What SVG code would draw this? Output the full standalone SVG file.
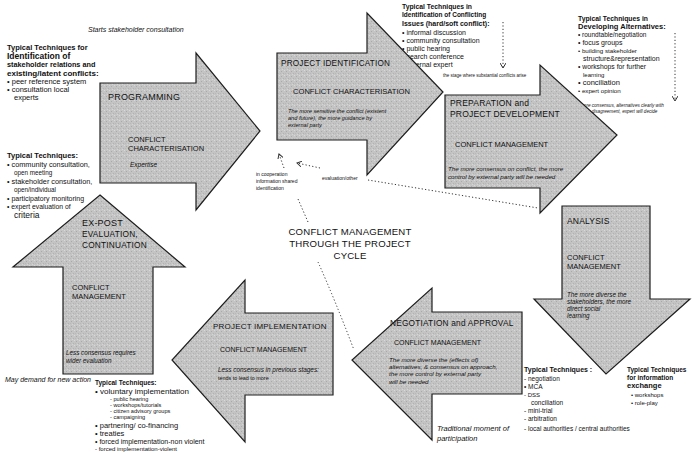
<svg xmlns="http://www.w3.org/2000/svg" width="700" height="453" viewBox="0 0 700 453">
<defs>
<pattern id="stip" width="5" height="5" patternUnits="userSpaceOnUse">
<rect width="5" height="5" fill="#c4c4c4"/>
<rect x="1" y="1" width="1" height="1" fill="#a9a9a9"/>
<rect x="3" y="3" width="1" height="1" fill="#b2b2b2"/>
<rect x="2" y="4" width="1" height="1" fill="#d6d6d6"/>
<rect x="4" y="0" width="1" height="1" fill="#d9d9d9"/>
<rect x="0" y="3" width="1" height="1" fill="#b8b8b8"/>
</pattern>
<marker id="ah" markerWidth="6" markerHeight="6" refX="5" refY="3" orient="auto" markerUnits="userSpaceOnUse">
<path d="M0,0 L5,3 L0,6" fill="none" stroke="#333" stroke-width="1"/>
</marker>
</defs>
<style>
.arrow{fill:url(#stip);stroke:#1e1e1e;stroke-width:1.2;stroke-linejoin:miter}
text{font-family:"Liberation Sans",Arial,sans-serif;fill:#111}
.b{font-weight:bold}
.i{font-style:italic}
.cap{letter-spacing:0.2px}
.dot{fill:none;stroke:#333;stroke-width:1;stroke-dasharray:1.2 2.2}
</style>
<rect width="700" height="453" fill="#fff"/>

<g id="connectors">
<path class="dot" d="M308,222 L298,199"/>
<path class="dot" d="M284,168 L279,154" marker-end="url(#ah)"/>
<path class="dot" d="M320,168 L297,163" marker-end="url(#ah)"/>
<path class="dot" d="M368,180 L538,208"/>
<path class="dot" d="M318,262 Q335,300 354,350"/>
<path class="dot" d="M503,22 L503,68" marker-end="url(#ah)"/>
<path class="dot" d="M675,33 L675,101" marker-end="url(#ah)"/>
<text x="256" y="176" font-size="5">in cooperation</text>
<text x="256" y="183" font-size="5">information shared</text>
<text x="256" y="190" font-size="5">identification</text>
<text x="322" y="180" font-size="5">evaluation/other</text>
</g>

<g id="title">
<text x="350" y="235" font-size="9.6" text-anchor="middle" class="cap">CONFLICT MANAGEMENT</text>
<text x="350" y="247" font-size="9.6" text-anchor="middle" class="cap">THROUGH THE PROJECT</text>
<text x="350" y="259" font-size="9.6" text-anchor="middle" class="cap">CYCLE</text>
</g>

<g id="note-start">
<text x="88" y="32" font-size="7" class="i">Starts stakeholder consultation</text>
</g>

<g id="tech-stakeholder">
<text x="7" y="50" font-size="7.5" class="b">Typical Techniques for</text>
<text x="7" y="59" font-size="8.5" class="b">Identification of</text>
<text x="7" y="67" font-size="7.3" class="b">stakeholder relations and</text>
<text x="7" y="76" font-size="8" class="b">existing/latent conflicts:</text>
<text x="7" y="84" font-size="7.5">•  peer reference system</text>
<text x="7" y="92" font-size="7.5">•  consultation local</text>
<text x="14" y="100" font-size="7.5">experts</text>
</g>

<g id="programming">
<polygon class="arrow" points="100,83 196,83 196,53 260,131 196,210 196,183 100,183"/>
<text x="108" y="100" font-size="9" class="cap">PROGRAMMING</text>
<text x="128" y="142" font-size="7.5">CONFLICT</text>
<text x="128" y="151" font-size="7.5">CHARACTERISATION</text>
<text x="130" y="167" font-size="6.5" class="i">Expertise</text>
</g>

<g id="tech-conflicting">
<text x="402" y="9" font-size="6.8" class="b">Typical Techniques in</text>
<text x="402" y="17" font-size="6.5" class="b">Identification of Conflicting</text>
<text x="402" y="26" font-size="7" class="b">Issues (hard/soft conflict):</text>
<text x="402" y="35" font-size="7">•  informal discussion</text>
<text x="402" y="43" font-size="7">•  community consultation</text>
<text x="402" y="51" font-size="7">•  public hearing</text>
<text x="402" y="59" font-size="7">•  search conference</text>
<text x="404" y="67" font-size="7">-external expert</text>
<text x="443" y="77" font-size="4.5">the stage where substantial conflicts arise</text>
</g>

<g id="project-identification">
<polygon class="arrow" points="277,53 367,53 367,13 443,92 367,175 367,140 277,140"/>
<text x="281" y="66" font-size="8.2" class="cap">PROJECT IDENTIFICATION</text>
<text x="293" y="94" font-size="7.6">CONFLICT CHARACTERISATION</text>
<text x="288" y="113" font-size="5.6" class="i">The more sensitive the conflict (existent</text>
<text x="288" y="120" font-size="5.6" class="i">and future), the more guidance by</text>
<text x="288" y="127" font-size="5.6" class="i">external party</text>
</g>

<g id="tech-alternatives">
<text x="578" y="21" font-size="6.8" class="b">Typical Techniques in</text>
<text x="578" y="29" font-size="7.5" class="b">Developing Alternatives:</text>
<text x="578" y="37" font-size="6.5">•  roundtable/negotiation</text>
<text x="578" y="45" font-size="7">•  focus groups</text>
<text x="578" y="53" font-size="6.2">•  building stakeholder</text>
<text x="583" y="61" font-size="7">structure&amp;representation</text>
<text x="578" y="69" font-size="6.8">•  workshops for further</text>
<text x="583" y="77" font-size="6">learning</text>
<text x="578" y="85" font-size="7.5">•  conciliation</text>
<text x="578" y="93" font-size="6.2">•  expert opinion</text>
<text x="580" y="107" font-size="4.6" class="i">more consensus, alternatives clearly with</text>
<text x="580" y="113" font-size="4.6" class="i">more disagreement, expert will decide</text>
</g>

<g id="preparation">
<polygon class="arrow" points="445,95 540,95 540,65 617,135 540,213 540,188 445,188"/>
<text x="450" y="106" font-size="8.5" class="cap">PREPARATION and</text>
<text x="450" y="117" font-size="8.5" class="cap">PROJECT DEVELOPMENT</text>
<text x="455" y="147" font-size="7.5">CONFLICT MANAGEMENT</text>
<text x="448" y="171" font-size="6.2" class="i">The more consensus on conflict, the more</text>
<text x="448" y="179" font-size="6.2" class="i">control by external party will be needed</text>
</g>

<g id="analysis">
<polygon class="arrow" points="562,206 650,206 650,299 690,299 606,374 534,299 562,299"/>
<text x="567" y="224" font-size="8.5" class="cap">ANALYSIS</text>
<text x="567" y="260" font-size="7.5">CONFLICT</text>
<text x="567" y="269" font-size="7.5">MANAGEMENT</text>
<text x="567" y="297" font-size="6.3" class="i">The more diverse the</text>
<text x="567" y="304" font-size="6.3" class="i">stakeholders, the more</text>
<text x="567" y="311" font-size="6.3" class="i">direct social</text>
<text x="567" y="318" font-size="6.3" class="i">learning</text>
</g>

<g id="tech-negotiation">
<text x="524" y="372" font-size="7" class="b">Typical Techniques :</text>
<text x="524" y="381" font-size="6.5">-  negotiation</text>
<text x="524" y="389" font-size="6.5">•  MCA</text>
<text x="524" y="397" font-size="6">-  DSS</text>
<text x="531" y="405" font-size="6.5">conciliation</text>
<text x="524" y="413" font-size="6.5">-  mini-trial</text>
<text x="524" y="421" font-size="6.5">-  arbitration</text>
<text x="524" y="431" font-size="6.5">-  local authorities / central authorities</text>
</g>

<g id="tech-information">
<text x="627" y="372" font-size="6.5" class="b">Typical Techniques</text>
<text x="627" y="380" font-size="6.5" class="b">for information</text>
<text x="627" y="388" font-size="7.5" class="b">exchange</text>
<text x="631" y="397" font-size="6">•  workshops</text>
<text x="631" y="405" font-size="6">•  role-play</text>
</g>

<g id="negotiation">
<polygon class="arrow" points="432,288 432,312 522,312 522,394 432,394 432,440 352,360"/>
<text x="390" y="326" font-size="8.3" class="cap">NEGOTIATION and APPROVAL</text>
<text x="394" y="345" font-size="7">CONFLICT MANAGEMENT</text>
<text x="389" y="362" font-size="6.2" class="i">The more diverse the (effects of)</text>
<text x="389" y="369" font-size="6.2" class="i">alternatives, &amp; consensus on approach,</text>
<text x="389" y="376" font-size="6.2" class="i">the more control by external party</text>
<text x="389" y="384" font-size="6.2" class="i">will be needed</text>
<text x="437" y="431" font-size="7.5" class="i">Traditional moment of</text>
<text x="437" y="441" font-size="7.5" class="i">participation</text>
</g>

<g id="project-implementation">
<polygon class="arrow" points="245,280 245,313 333,313 333,395 245,395 245,442 172,360"/>
<text x="213" y="329" font-size="8" class="cap">PROJECT IMPLEMENTATION</text>
<text x="220" y="352" font-size="7">CONFLICT MANAGEMENT</text>
<text x="218" y="372" font-size="6.4" class="i">Less consensus in previous stages:</text>
<text x="218" y="380" font-size="5.4">tends to lead to more</text>
</g>

<g id="tech-evaluation">
<text x="7" y="158" font-size="7.5" class="b">Typical Techniques:</text>
<text x="7" y="167" font-size="7.3">•  community consultation,</text>
<text x="14" y="175" font-size="6.3">open meeting</text>
<text x="7" y="184" font-size="7.3">•  stakeholder consultation,</text>
<text x="14" y="192" font-size="6.3">open/individual</text>
<text x="7" y="201" font-size="7">•  participatory monitoring</text>
<text x="7" y="209" font-size="6.8">•  expert evaluation of</text>
<text x="14" y="218" font-size="8.5">criteria</text>
</g>

<g id="ex-post">
<polygon class="arrow" points="100,195 185,267 153,267 153,374 63,374 63,267 13,267"/>
<text x="82" y="226" font-size="9" class="cap">EX-POST</text>
<text x="82" y="237" font-size="8.3" class="cap">EVALUATION,</text>
<text x="82" y="248" font-size="8.3" class="cap">CONTINUATION</text>
<text x="72" y="290" font-size="7.5">CONFLICT</text>
<text x="72" y="299" font-size="7.5">MANAGEMENT</text>
<text x="66" y="355" font-size="6.3" class="i">Less consensus requires</text>
<text x="66" y="363" font-size="6.3" class="i">wider evaluation</text>
</g>

<g id="note-demand">
<text x="5" y="382" font-size="7" class="i">May demand for new action</text>
</g>

<g id="tech-implementation">
<text x="95" y="385" font-size="6.5" class="b">Typical Techniques:</text>
<text x="95" y="394" font-size="8">•  voluntary implementation</text>
<text x="110" y="401" font-size="5.6">-  public hearing</text>
<text x="110" y="407" font-size="5.6">-  workshops/tutorials</text>
<text x="110" y="413" font-size="5.6">-  citizen advisory groups</text>
<text x="110" y="419" font-size="5.6">-  campaigning</text>
<text x="95" y="428" font-size="7.5">•  partnering/ co-financing</text>
<text x="95" y="436" font-size="7.5">•  treaties</text>
<text x="95" y="444" font-size="7">•  forced implementation-non violent</text>
<text x="95" y="451" font-size="6">-  forced implementation-violent</text>
</g>
</svg>
